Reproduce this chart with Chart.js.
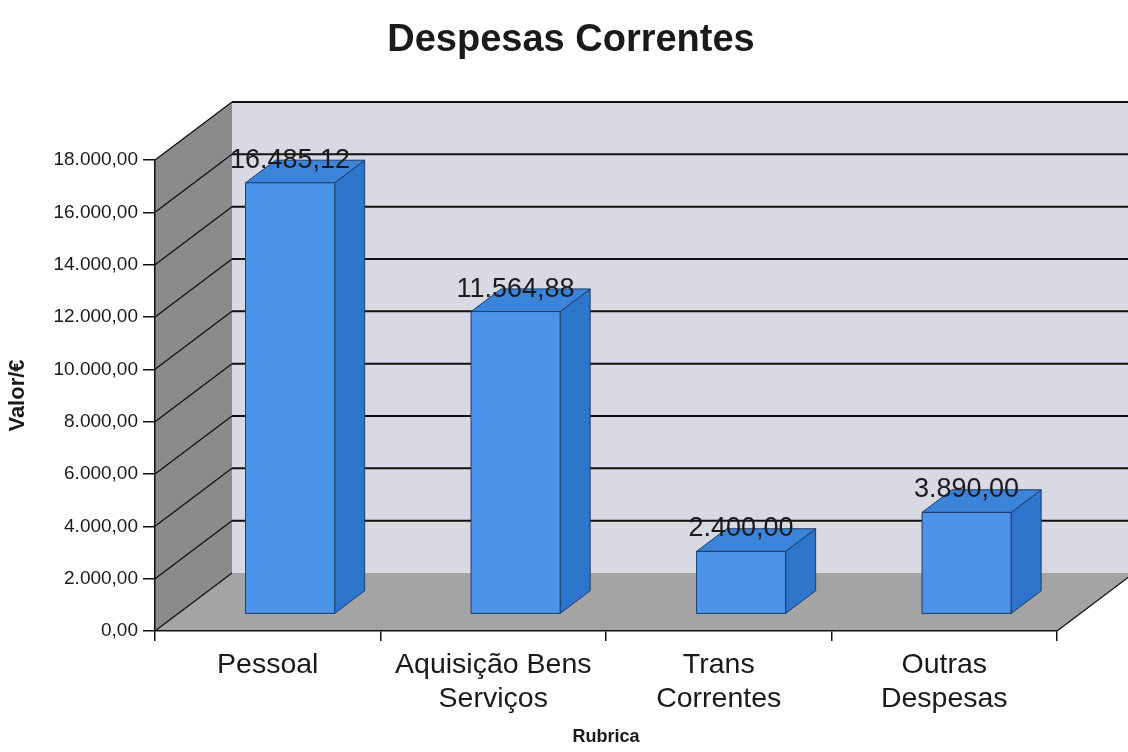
<!DOCTYPE html>
<html>
<head>
<meta charset="utf-8">
<title>Despesas Correntes</title>
<script src="https://cdn.jsdelivr.net/npm/chart.js@4.4.1/dist/chart.umd.min.js"></script>
<style>
  html, body { margin: 0; padding: 0; background: #fff; }
</style>
</head>
<body>
<canvas id="despesasChart" width="1128" height="752"></canvas>
<script>
const chartTitle = "Despesas Correntes";
const categories = [["Pessoal"], ["Aquisição Bens", "Serviços"], ["Trans", "Correntes"], ["Outras", "Despesas"]];
const valores = [16485.12, 11564.88, 2400.0, 3890.0];
const yMax = 18000;
const yStep = 2000;
const yAxisTitle = "Valor/€";
const xAxisTitle = "Rubrica";

// fake 3D: depth of the walls in px, and where the bars sit in that depth
const DX = 77, DY = -58;
const BAR_FRONT = 0.29, BAR_BACK = 0.68;

const FONT = "'Liberation Sans', Arial, sans-serif";
Chart.defaults.font.family = FONT;
Chart.defaults.color = "#1a1a1a";

function formatPt(n) {
  const parts = n.toFixed(2).split(".");
  parts[0] = parts[0].replace(/\B(?=(\d{3})+(?!\d))/g, ".");
  return parts[0] + "," + parts[1];
}

function poly(ctx, pts, fill, stroke, lw) {
  ctx.beginPath();
  ctx.moveTo(pts[0][0], pts[0][1]);
  for (let i = 1; i < pts.length; i++) ctx.lineTo(pts[i][0], pts[i][1]);
  ctx.closePath();
  if (fill) { ctx.fillStyle = fill; ctx.fill(); }
  if (stroke) { ctx.strokeStyle = stroke; ctx.lineWidth = lw || 1; ctx.stroke(); }
}

function line(ctx, x0, y0, x1, y1, lw) {
  ctx.beginPath();
  ctx.moveTo(x0, y0);
  ctx.lineTo(x1, y1);
  ctx.lineWidth = lw;
  ctx.strokeStyle = "#111";
  ctx.stroke();
}

const box3d = {
  id: "box3d",
  beforeDraw(chart) {
    const { ctx, chartArea: a, scales: { y } } = chart;
    const L = a.left, R = a.right;
    const T = y.getPixelForValue(yMax), B = y.getPixelForValue(0);
    ctx.save();
    // back wall
    ctx.fillStyle = "#d9d9e3";
    ctx.fillRect(L + DX, T + DY, R - L + 20, B - T);
    // left wall
    poly(ctx, [[L, T], [L + DX, T + DY], [L + DX, B + DY], [L, B]], "#8b8b8b");
    // floor
    poly(ctx, [[L, B], [L + DX, B + DY], [R + DX, B + DY], [R, B]], "#a4a4a4");
    // gridlines on both walls
    for (let v = 0; v <= yMax; v += yStep) {
      const yy = y.getPixelForValue(v);
      line(ctx, L, yy, L + DX, yy + DY, 1.3);
      if (v > 0) line(ctx, L + DX, yy + DY, R + DX + 20, yy + DY, 2);
    }
    line(ctx, R, B, R + DX, B + DY, 1.3);
    ctx.restore();
  },
  afterDatasetsDraw(chart) {
    const ctx = chart.ctx;
    const meta = chart.getDatasetMeta(0);
    const fx = BAR_FRONT * DX, fy = BAR_FRONT * DY;
    const ddx = (BAR_BACK - BAR_FRONT) * DX, ddy = (BAR_BACK - BAR_FRONT) * DY;
    ctx.save();
    meta.data.forEach((bar, i) => {
      const half = bar.width / 2;
      const x0 = bar.x - half + fx, x1 = bar.x + half + fx;
      const yTop = bar.y + fy, yBot = bar.base + fy;
      ctx.lineJoin = "round";
      // side face
      poly(ctx, [[x1, yTop], [x1 + ddx, yTop + ddy], [x1 + ddx, yBot + ddy], [x1, yBot]], "#2e76cb", "#1d3d6b", 1);
      // top face
      poly(ctx, [[x0, yTop], [x0 + ddx, yTop + ddy], [x1 + ddx, yTop + ddy], [x1, yTop]], "#3c84d9", "#1d3d6b", 1);
      // front face
      poly(ctx, [[x0, yTop], [x1, yTop], [x1, yBot], [x0, yBot]], "#4b94ea", "#1d3d6b", 1);
    });
    // value labels
    ctx.fillStyle = "#1a1a1a";
    ctx.font = "27px " + FONT;
    ctx.textAlign = "center";
    ctx.textBaseline = "alphabetic";
    meta.data.forEach((bar, i) => {
      ctx.fillText(formatPt(valores[i]), bar.x + fx, bar.y + fy - 15);
    });
    ctx.restore();
  },
  afterDraw(chart) {
    const ctx = chart.ctx;
    ctx.save();
    ctx.fillStyle = "#1a1a1a";
    ctx.font = "bold 38px " + FONT;
    ctx.textAlign = "center";
    ctx.textBaseline = "alphabetic";
    ctx.fillText(chartTitle, 571, 51);
    ctx.restore();
  }
};

new Chart(document.getElementById("despesasChart"), {
  type: "bar",
  data: {
    labels: categories,
    datasets: [{
      label: "Valor",
      data: valores,
      backgroundColor: "rgba(0,0,0,0)",
      borderWidth: 0,
      categoryPercentage: 1,
      barPercentage: 0.395,
    }],
  },
  options: {
    responsive: false,
    animation: false,
    layout: { padding: { top: 160, right: 71, left: 0, bottom: 0 } },
    plugins: {
      legend: { display: false },
      tooltip: { enabled: false },
      title: { display: false },
    },
    scales: {
      x: {
        grid: { offset: true, drawOnChartArea: false, tickLength: 10, color: "#111", lineWidth: 1.5 },
        border: { color: "#111", width: 1.5 },
        ticks: { font: { size: 28.5 }, color: "#1a1a1a", padding: 7, maxRotation: 0, autoSkip: false },
        title: { display: true, text: xAxisTitle, font: { size: 18, weight: "bold" }, padding: { top: 4, bottom: 4 } },
        afterFit(scale) { scale.height = 121; },
      },
      y: {
        min: 0,
        max: yMax,
        ticks: { stepSize: yStep, callback: (v) => formatPt(v), font: { size: 19 }, color: "#1a1a1a", padding: 5 },
        grid: { drawOnChartArea: false, tickLength: 12, color: "#111", lineWidth: 1.5 },
        border: { color: "#111", width: 1.5 },
        title: { display: true, text: yAxisTitle, font: { size: 22, weight: "bold" }, padding: { top: 5, bottom: 4 } },
        afterFit(scale) { scale.width = 155; },
      },
    },
  },
  plugins: [box3d],
});
</script>
</body>
</html>
